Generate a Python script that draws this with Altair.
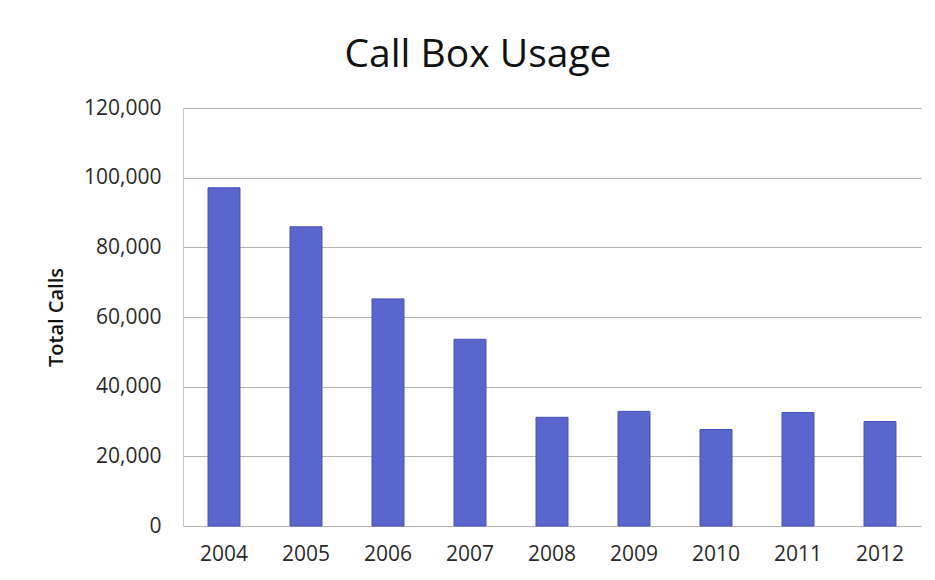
import altair as alt
import pandas as pd

years = ["2004", "2005", "2006", "2007", "2008", "2009", "2010", "2011", "2012"]
calls = [97100, 85900, 65200, 53600, 31200, 32900, 27700, 32600, 30000]
y_ticks = [0, 20000, 40000, 60000, 80000, 100000, 120000]

df = pd.DataFrame({"Year": years, "Calls": calls})

FONT = "Open Sans"

chart = (
    alt.Chart(df)
    .mark_bar(color="#5a66cb", stroke="#4652bd", strokeWidth=1)
    .encode(
        x=alt.X(
            "Year:N",
            sort=years,
            title=None,
            scale=alt.Scale(paddingInner=0.61, paddingOuter=0.305),
            axis=alt.Axis(
                labelAngle=0,
                labelFontSize=21,
                labelFont=FONT,
                labelColor="#2a2a2a",
                labelPadding=17,
                ticks=False,
                domain=False,
                grid=False,
            ),
        ),
        y=alt.Y(
            "Calls:Q",
            title="Total Calls",
            scale=alt.Scale(domain=[0, 120000], nice=False),
            axis=alt.Axis(
                values=y_ticks,
                format=",d",
                labelFontSize=21,
                labelFont=FONT,
                labelColor="#2a2a2a",
                labelPadding=22,
                ticks=False,
                domain=True,
                domainColor="#c8c8c8",
                grid=True,
                gridColor="#b4b4b4",
                gridWidth=1,
                titleFont=FONT,
                titleFontSize=20,
                titleFontWeight=600,
                titleColor="#111111",
                titlePadding=17,
            ),
        ),
    )
    .properties(
        width=738,
        height=418,
        title=alt.TitleParams(
            text="Call Box Usage",
            font=FONT,
            fontSize=39,
            fontWeight=500,
            color="#111111",
            anchor="middle",
            dx=-74,
            offset=22,
        ),
        autosize=alt.AutoSizeParams(type="none"),
        padding={"left": 175, "top": 100, "right": 6, "bottom": 46},
    )
    .configure_view(stroke=None)
)

chart.save("out.html", embed_options={"renderer": "svg", "actions": False})
